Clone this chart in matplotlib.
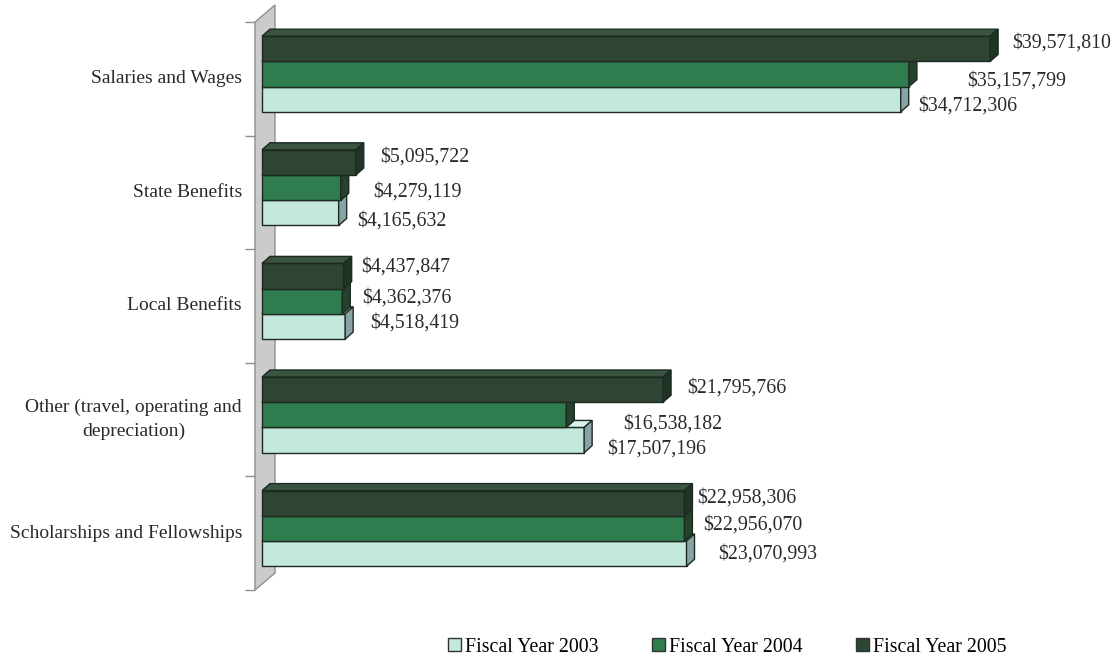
import matplotlib
matplotlib.use("Agg")
import matplotlib.pyplot as plt
from matplotlib.patches import Polygon, Patch

# ---- data -------------------------------------------------------------
categories = [
    "Salaries and Wages",
    "State Benefits",
    "Local Benefits",
    "Other (travel, operating and\ndepreciation)",
    "Scholarships and Fellowships",
]
series_names = ["Fiscal Year 2003", "Fiscal Year 2004", "Fiscal Year 2005"]
fy2003 = [34712306, 4165632, 4518419, 17507196, 23070993]
fy2004 = [35157799, 4279119, 4362376, 16538182, 22956070]
fy2005 = [39571810, 5095722, 4437847, 21795766, 22958306]
series_values = [fy2003, fy2004, fy2005]

# ---- styling ----------------------------------------------------------
front_colors = ["#c4e8dc", "#2f7d4f", "#2e4534"]
top_colors = ["#d9f2ea", "#3f9263", "#3b5442"]
side_colors = ["#88a3a6", "#28402f", "#1f3326"]
edge_color = "#1c2a20"

# label nudges in pixels: (right of bar end, below top of category band)
label_nudge = [
    [(17, 84), (58, 59), (22, 21)],
    [(19, 85), (32, 56), (24, 21)],
    [(25, 74), (20, 49), (18, 18)],
    [(23, 86), (57, 61), (24, 25)],
    [(32, 78), (19, 49), (13, 22)],
]

plt.rcParams["font.family"] = ["Liberation Serif", "DejaVu Serif"]
FS = 14.3
CAT_FS = 14.0

W, H, DPI = 1115, 659, 100
fig = plt.figure(figsize=(W / DPI, H / DPI), dpi=DPI, facecolor="white")

ax_left, ax_w = 262, 828
ax_top, ax_bot = 22, 590
ax = fig.add_axes([ax_left / W, (H - ax_bot) / H, ax_w / W, (ax_bot - ax_top) / H])
XMAX = 45e6
n = len(categories)
ax.set_xlim(0, XMAX)
ax.set_ylim(n, 0)
ax.axis("off")

# pixel -> data unit conversions
px_x = XMAX / ax_w
px_y = n / (ax_bot - ax_top)

depth_x = 8 * px_x
depth_y = 7 * px_y

# back wall behind the bars
wall_l, wall_r, wall_rise = -7 * px_x, 13 * px_x, 17 * px_y
wall = Polygon(
    [(wall_l, 0), (wall_r, -wall_rise), (wall_r, n - wall_rise), (wall_l, n)],
    closed=True, facecolor="#cbcbcb", edgecolor="#8e8e8e", lw=1.0,
    clip_on=False, zorder=1,
)
ax.add_patch(wall)

# category boundary ticks
for i in range(n + 1):
    ax.plot([-17 * px_x, -7 * px_x], [i, i], color="#8e8e8e", lw=1.0,
            clip_on=False, zorder=1, solid_capstyle="butt")

# category labels
for i, cat in enumerate(categories):
    ax.text(-20 * px_x, i + 0.5, cat, ha="right", va="center",
            multialignment="center", fontsize=CAT_FS, color="#2a2a2a",
            linespacing=1.5)

# 3D-looking bars, drawn bottom series first so upper ones overlap
bar_h = 0.222
first_top = 0.125
for i in range(n):
    for j in range(3):
        v = series_values[j][i]
        top = first_top + (2 - j) * bar_h
        z = 2 + i * 0.01 + j * 0.001
        ax.barh(i + top + bar_h / 2, v, height=bar_h, left=0,
                color=front_colors[j], edgecolor=edge_color, lw=1.0, zorder=z,
                clip_on=False)
        top_face = Polygon(
            [(0, i + top), (v, i + top), (v + depth_x, i + top - depth_y),
             (depth_x, i + top - depth_y)],
            closed=True, facecolor=top_colors[j], edgecolor=edge_color,
            lw=1.0, zorder=z, clip_on=False)
        side_face = Polygon(
            [(v, i + top), (v + depth_x, i + top - depth_y),
             (v + depth_x, i + top + bar_h - depth_y), (v, i + top + bar_h)],
            closed=True, facecolor=side_colors[j], edgecolor=edge_color,
            lw=1.0, zorder=z, clip_on=False)
        ax.add_patch(top_face)
        ax.add_patch(side_face)

        dx, dy = label_nudge[i][j]
        ax.annotate(f"${v:,.0f}", xy=(v, i), xytext=(dx, -dy),
                    textcoords="offset pixels", ha="left", va="center",
                    fontsize=FS, color="#2a2a2a", zorder=10,
                    annotation_clip=False)

# legend
handles = [Patch(facecolor=front_colors[j], edgecolor="#333333", lw=1.0)
           for j in range(3)]
fig.legend(handles, series_names, loc="center",
           bbox_to_anchor=(727.5 / W, (H - 647) / H), ncol=3, frameon=False,
           fontsize=FS, handlelength=0.65, handleheight=0.65,
           handletextpad=0.2, columnspacing=2.7, borderpad=0, borderaxespad=0)

fig.savefig("out.png", dpi=DPI, facecolor="white")
